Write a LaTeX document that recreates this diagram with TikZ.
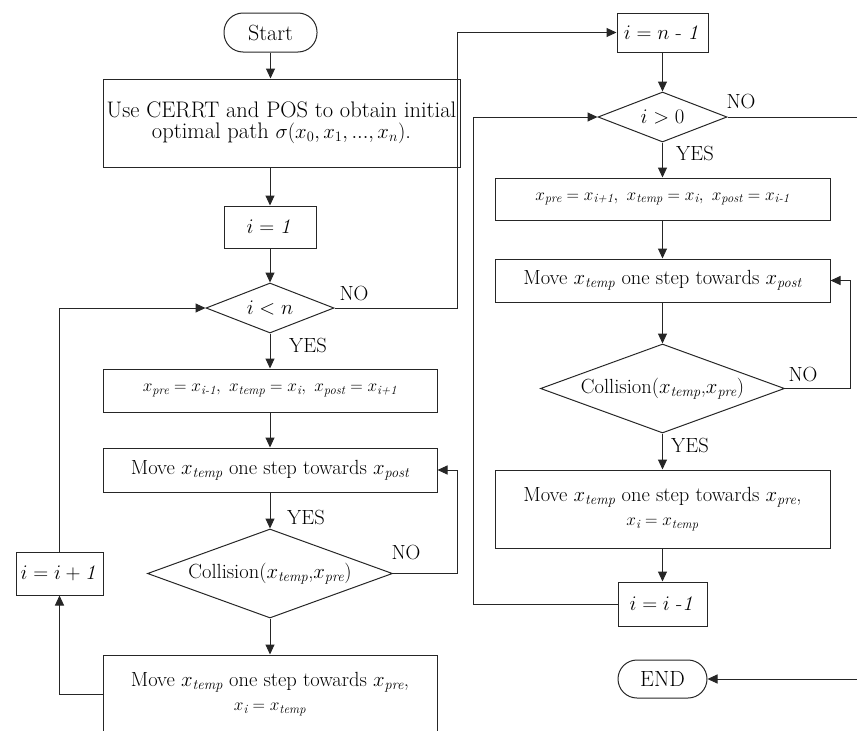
\documentclass[tikz,border=0pt]{standalone}
\usepackage{amsmath}
\usetikzlibrary{arrows.meta,shapes.geometric}
\begin{document}
\begin{tikzpicture}[x=1pt,y=-1pt,
  every node/.style={font=\fontsize{20.5}{26}\selectfont},
  small/.style={font=\fontsize{18}{22}\selectfont},
  big/.style={font=\fontsize{22.5}{21}\selectfont},
  two/.style={font=\fontsize{20.5}{24}\selectfont},
  box/.style={draw=black!85, line width=1pt, inner sep=0pt, align=center},
  term/.style={draw=black!85, line width=1pt, inner sep=0pt, rounded corners=19pt, font=\fontsize{22}{26}\selectfont},
  dia/.style={draw=black!85, diamond, line width=1pt, inner sep=0pt},
  arr/.style={draw=black!85, line width=1pt, -{Triangle[length=10pt,width=9pt]}},
  lbl/.style={inner sep=0pt}
]
\clip (0,0) rectangle (857,731);
% left column
\node[term, minimum width=93pt, minimum height=39pt] (start) at (270.5,32.5) {Start};
\node[box, big, minimum width=357pt, minimum height=88pt] (init) at (281.5,123)
  {Use CERRT and POS to obtain initial\\optimal path $\sigma(x_0,x_1,...,x_n)$.};
\node[box, minimum width=92pt, minimum height=42pt] (i1) at (270,227) {$i = \mathit{1}$};
\node[dia, shape aspect=2.56, minimum width=128pt, minimum height=50pt] (d1) at (270,308) {$i < n$};
\node[box, small, minimum width=334pt, minimum height=43pt] (b2) at (270,390.5)
  {$x_{\textit{pre}} = x_{\textit{i-1}},\ x_{\textit{temp}} = x_{\textit{i}},\ x_{\textit{post}} = x_{\textit{i+1}}$};
\node[box, minimum width=334pt, minimum height=44pt] (b3) at (270,470)
  {Move $x_{\textit{temp}}$ one step towards $x_{\textit{post}}$};
\node[dia, shape aspect=2.75, minimum width=245pt, minimum height=89pt] (d2) at (270,573.5)
  {Collision($x_{\textit{temp}}$,$x_{\textit{pre}}$)};
\node[box, two, minimum width=334pt, minimum height=78pt] (b4) at (270,694)
  {Move $x_{\textit{temp}}$ one step towards $x_{\textit{pre}}$,\\ \fontsize{18}{24}\selectfont $x_{\textit{i}} = x_{\textit{temp}}$};
\node[box, minimum width=87pt, minimum height=43pt] (ii1) at (59.5,573.5) {$i = i + \mathit{1}$};
% right column
\node[box, minimum width=91pt, minimum height=39pt] (n1) at (662.5,32.5) {$i = n\ \text{-}\ \mathit{1}$};
\node[dia, shape aspect=2.58, minimum width=129pt, minimum height=50pt] (d3) at (662.5,117) {$i > 0$};
\node[box, small, minimum width=335pt, minimum height=42pt] (r2) at (662.5,199)
  {$x_{\textit{pre}} = x_{\textit{i+1}},\ x_{\textit{temp}} = x_{\textit{i}},\ x_{\textit{post}} = x_{\textit{i-1}}$};
\node[box, minimum width=335pt, minimum height=43pt] (r3) at (662.5,280.5)
  {Move $x_{\textit{temp}}$ one step towards $x_{\textit{post}}$};
\node[dia, shape aspect=2.74, minimum width=244pt, minimum height=89pt] (d4) at (662.5,388.5)
  {Collision($x_{\textit{temp}}$,$x_{\textit{pre}}$)};
\node[box, two, minimum width=335pt, minimum height=78pt] (r4) at (662.5,509)
  {Move $x_{\textit{temp}}$ one step towards $x_{\textit{pre}}$,\\ \fontsize{18}{24}\selectfont $x_{\textit{i}} = x_{\textit{temp}}$};
\node[box, minimum width=89pt, minimum height=44pt] (im1) at (662.5,604) {$i = i\ \text{-}\mathit{1}$};
\node[term, minimum width=89pt, minimum height=38pt] (end) at (662.5,679) {END};
% labels
\node[lbl] (no1) at (354,293) {NO};
\node[lbl] (yes1) at (308,345) {YES};
\node[lbl] (yes2) at (306,517) {YES};
\node[lbl] (no2) at (406,552) {NO};
\node[lbl] (no3) at (741,101) {NO};
\node[lbl] (yes3) at (695,153) {YES};
\node[lbl] (no4) at (803,374) {NO};
\node[lbl] (yes4) at (690,445) {YES};
% helper coordinates
\coordinate (xa) at (457,0);
\coordinate (xc) at (473,0);
\coordinate (xd) at (850,0);
\coordinate (xe) at (890,0);
% connectors left
\draw[arr] (start) -- (start |- init.north);
\draw[arr] (init.south -| i1) -- (i1.north);
\draw[arr] (i1) -- (d1);
\draw[arr] (d1) -- (b2);
\draw[arr] (b2) -- (b3);
\draw[arr] (b3) -- (d2);
\draw[arr] (d2.east) -| (xa |- b3.east) -- (b3.east);
\draw[arr] (d2) -- (b4);
\draw[arr] (b4.west) -| (ii1.south);
\draw[arr] (ii1.north) |- (d1.west);
\draw[arr] (d1.east) -| (xa |- n1.west) -- (n1.west);
% connectors right
\draw[arr] (n1) -- (d3);
\draw[arr] (d3) -- (r2);
\draw[arr] (r2) -- (r3);
\draw[arr] (r3) -- (d4);
\draw[arr] (d4.east) -| (xd |- r3.east) -- (r3.east);
\draw[arr] (d4) -- (r4);
\draw[arr] (r4) -- (im1);
\draw[arr] (im1.west) -| (xc |- d3.west) -- (d3.west);
\draw[arr] (d3.east) -| (xe |- end.east) -- (end.east);
\end{tikzpicture}
\end{document}
